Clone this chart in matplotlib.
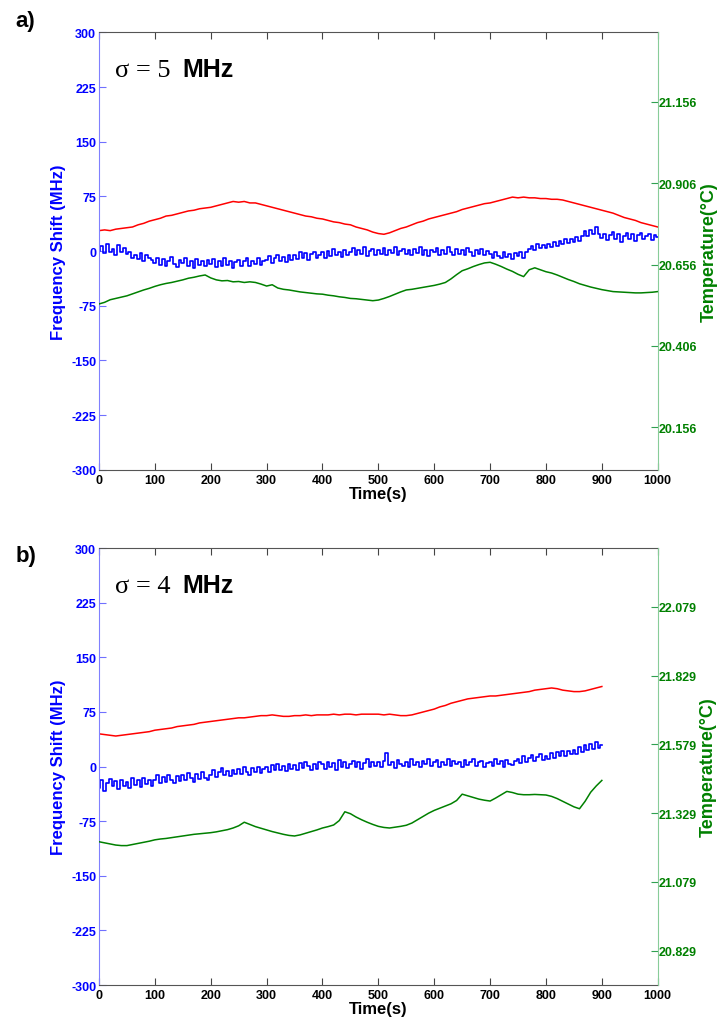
import matplotlib
matplotlib.use('Agg')
import matplotlib.pyplot as plt
import numpy as np

plt.rcParams['font.family'] = ['Liberation Sans', 'DejaVu Sans']
plt.rcParams['font.weight'] = 'bold'
plt.rcParams['axes.labelweight'] = 'bold'
plt.rcParams['axes.unicode_minus'] = False

# ---------------- panel a) sigma = 5 MHz ----------------
a_t_blue = np.arange(0, 1001, 5)
a_blue = [0, 7, -3, 9, -2, 3, -6, 8, -1, 4,
          -4, -1, -10, -5, -11, -3, -13, -6, -9, -12,
          -16, -9, -19, -11, -21, -13, -8, -18, -22, -12,
          -17, -10, -20, -13, -23, -11, -19, -14, -21, -12,
          -18, -11, -22, -14, -20, -10, -19, -13, -23, -15,
          -12, -20, -14, -9, -21, -13, -18, -10, -19, -14,
          -12, -7, -16, -9, -5, -14, -8, -15, -6, -12,
          -5, -11, -2, -9, -3, -12, -4, -1, -10, -5,
          -2, -9, 0, -7, 3, -6, -1, -8, 2, -5,
          -1, 4, -6, 1, -4, 5, -7, 0, 3, -5,
          1, -4, 4, -6, 2, -3, 5, -5, 0, 3,
          -4, 2, -6, 3, -3, 5, -5, 1, -7, 2,
          -2, 4, -5, 1, -4, 6, -1, -6, 3, -4,
          1, -5, 4, -2, -7, 2, -4, 3, -6, 0,
          -4, -9, -1, -7, -10, -2, -8, -4, -11, -3,
          -7, -1, -9, -2, 3, 7, 2, 9, 4, 8,
          4, 10, 5, 12, 7, 14, 9, 16, 11, 17,
          12, 19, 14, 21, 27, 21, 29, 23, 33, 24,
          18, 24, 15, 22, 26, 16, 23, 13, 21, 25,
          17, 23, 14, 22, 25, 16, 21, 24, 15, 22,
          19]
a_t = np.arange(0, 1001, 10)
a_red = [28, 29, 28, 30, 31, 32, 33, 36, 38, 41,
         43, 45, 48, 49, 51, 53, 55, 56, 58, 59,
         60, 62, 64, 66, 68, 67, 68, 66, 66, 64,
         62, 60, 58, 56, 54, 52, 50, 48, 47, 45,
         44, 42, 40, 39, 37, 36, 33, 31, 29, 26,
         24, 23, 25, 28, 31, 33, 36, 39, 41, 44,
         46, 48, 50, 52, 54, 57, 59, 61, 63, 65,
         66, 68, 70, 72, 74, 73, 74, 73, 73, 72,
         72, 71, 71, 70, 68, 66, 64, 62, 60, 58,
         56, 54, 52, 49, 46, 44, 42, 39, 37, 35,
         33]
a_temp = [20.535, 20.540, 20.548, 20.552, 20.556, 20.560, 20.566, 20.572, 20.578, 20.583,
          20.589, 20.594, 20.598, 20.601, 20.605, 20.609, 20.614, 20.617, 20.621, 20.624,
          20.615, 20.609, 20.606, 20.607, 20.603, 20.604, 20.601, 20.603, 20.601, 20.596,
          20.590, 20.594, 20.584, 20.580, 20.578, 20.575, 20.572, 20.570, 20.568, 20.566,
          20.565, 20.562, 20.560, 20.557, 20.555, 20.552, 20.551, 20.549, 20.547, 20.545,
          20.547, 20.552, 20.558, 20.565, 20.572, 20.578, 20.580, 20.583, 20.586, 20.589,
          20.592, 20.596, 20.601, 20.612, 20.625, 20.637, 20.643, 20.650, 20.656, 20.661,
          20.663, 20.657, 20.650, 20.642, 20.635, 20.626, 20.619, 20.640, 20.646, 20.640,
          20.634, 20.630, 20.624, 20.617, 20.610, 20.604, 20.597, 20.592, 20.587, 20.583,
          20.579, 20.576, 20.573, 20.572, 20.571, 20.570, 20.569, 20.569, 20.570, 20.571,
          20.573]
a_temp_ticks = [20.156, 20.406, 20.656, 20.906, 21.156]
a_temp_lim = (20.026, 21.369)

# ---------------- panel b) sigma = 4 MHz ----------------
b_t_blue = np.arange(0, 901, 5)
b_blue = [-29, -19, -33, -23, -17, -27, -20, -31, -18, -26,
          -21, -30, -16, -25, -19, -28, -15, -24, -18, -27,
          -19, -12, -23, -14, -21, -11, -18, -22, -13, -20,
          -11, -19, -9, -16, -21, -10, -17, -8, -15, -18,
          -11, -5, -14, -7, -2, -12, -6, -13, -4, -10,
          -3, -10, -1, -8, -12, -2, -7, 0, -9, -3,
          -1, -7, 2, -5, 4, -4, 1, -6, 3, -3,
          2, -4, 5, -2, 7, 1, -5, 4, -3, 6,
          3, -3, 7, -1, 5, -4, 9, 0, 6, -2,
          4, 8, -1, 6, -3, 5, 10, 0, 7, 1,
          6, -1, 8, 19, 2, 7, -2, 9, 3, 1,
          7, 0, 10, 2, 6, -1, 8, 3, 11, 1,
          6, 9, 0, 7, 2, 10, 1, 8, 3, 7,
          0, 9, 2, 7, 11, 1, 6, 8, -1, 5,
          7, 1, 10, 3, 8, 0, 9, 4, 2, 8,
          11, 5, 14, 7, 12, 16, 8, 13, 17, 9,
          15, 10, 18, 12, 20, 14, 22, 15, 21, 17,
          23, 17, 27, 20, 29, 23, 31, 24, 34, 26,
          30]
b_t = np.arange(0, 901, 10)
b_red = [45, 44, 43, 42, 43, 44, 45, 46, 47, 48,
         50, 51, 52, 53, 55, 56, 57, 58, 60, 61,
         62, 63, 64, 65, 66, 67, 67, 68, 69, 70,
         70, 71, 70, 69, 69, 70, 70, 71, 70, 71,
         71, 71, 72, 71, 72, 72, 71, 72, 72, 72,
         72, 71, 72, 71, 70, 70, 71, 73, 75, 77,
         79, 82, 84, 87, 89, 91, 93, 94, 95, 96,
         97, 97, 98, 99, 100, 101, 102, 103, 105, 106,
         107, 108, 107, 105, 104, 103, 103, 104, 106, 108,
         110]
b_temp = [21.225, 21.221, 21.217, 21.213, 21.211, 21.211, 21.215, 21.219, 21.223, 21.227,
          21.232, 21.235, 21.237, 21.240, 21.243, 21.246, 21.249, 21.252, 21.254, 21.256,
          21.258, 21.261, 21.265, 21.269, 21.275, 21.283, 21.296, 21.288, 21.280, 21.274,
          21.268, 21.262, 21.257, 21.252, 21.248, 21.246, 21.250, 21.256, 21.262, 21.268,
          21.275, 21.280, 21.286, 21.302, 21.334, 21.327, 21.315, 21.305, 21.296, 21.288,
          21.281, 21.277, 21.275, 21.278, 21.281, 21.285, 21.293, 21.305, 21.317, 21.329,
          21.339, 21.347, 21.355, 21.363, 21.375, 21.398, 21.392, 21.386, 21.380, 21.376,
          21.373, 21.384, 21.396, 21.408, 21.404, 21.398, 21.396, 21.396, 21.397, 21.396,
          21.395, 21.390, 21.382, 21.372, 21.362, 21.352, 21.345, 21.372, 21.405, 21.428,
          21.448]
b_temp_ticks = [20.829, 21.079, 21.329, 21.579, 21.829, 22.079]
b_temp_lim = (20.704, 22.2925)

freq_ticks = [-300, -225, -150, -75, 0, 75, 150, 225, 300]
time_ticks = list(range(0, 1001, 100))

BLUE = '#0000ff'
RED = '#ff0000'
GREEN = '#008000'

fig = plt.figure(figsize=(7.2, 10.2), dpi=100)


def panel(rect, tb, blue, t, red, temp, tticks, tlim, letter, sigma, letter_y):
    ax = fig.add_axes(rect)
    ax.plot(t, red, color=RED, lw=1.1)
    ax.plot(tb, blue, color=BLUE, lw=1.2, drawstyle='steps-mid')
    ax.set_xlim(0, 1000)
    ax.set_ylim(-300, 300)
    ax.set_xticks(time_ticks)
    ax.set_yticks(freq_ticks)
    ax.tick_params(axis='y', direction='in', length=5, color='#7070ff',
                   labelcolor=BLUE, left=True, right=True, pad=2, labelsize=9)
    ax.tick_params(axis='x', direction='in', length=5, color='#444444',
                   labelcolor='black', top=True, bottom=True, pad=3, labelsize=9)
    ax.spines['left'].set_color('#8080ff')
    ax.spines['right'].set_visible(False)
    ax.spines['top'].set_color('#555555')
    ax.spines['bottom'].set_color('#555555')
    ax.set_xlabel('Time(s)', fontsize=12, labelpad=0)
    ax.set_ylabel('Frequency Shift (MHz)', fontsize=12, color=BLUE, labelpad=4)

    ax2 = ax.twinx()
    ax2.plot(t, temp, color=GREEN, lw=1.1)
    ax2.set_ylim(*tlim)
    ax2.set_yticks(tticks)
    ax2.set_yticklabels(['%.3f' % v for v in tticks])
    ax2.tick_params(axis='y', direction='in', length=5, color='#30a050',
                    labelcolor=GREEN, pad=1, labelsize=9)
    for s in ('left', 'top', 'bottom'):
        ax2.spines[s].set_visible(False)
    ax2.spines['right'].set_color('#88cc99')
    ax2.set_ylabel('Temperature(\u00b0C)', fontsize=13, color=GREEN, labelpad=2)

    ax.text(0.029, 0.9, '\u03c3 = ' + sigma, transform=ax.transAxes,
            family=['Liberation Serif', 'DejaVu Serif'], fontweight='normal',
            fontsize=19, va='baseline', ha='left')
    ax.text(0.150, 0.9, 'MHz', transform=ax.transAxes, fontsize=18,
            fontweight='bold', va='baseline', ha='left')
    fig.text(0.021, letter_y, letter, fontsize=16, fontweight='bold',
             va='center', ha='left')
    return ax


panel([0.1375, 0.5385, 0.776, 0.4288], a_t_blue, a_blue, a_t, a_red, a_temp,
      a_temp_ticks, a_temp_lim, 'a)', '5', 1 - 22 / 1020)
panel([0.1375, 0.0333, 0.776, 0.4283], b_t_blue, b_blue, b_t, b_red, b_temp,
      b_temp_ticks, b_temp_lim, 'b)', '4', 1 - 557 / 1020)

fig.savefig('out.png', dpi=100, facecolor='white')
